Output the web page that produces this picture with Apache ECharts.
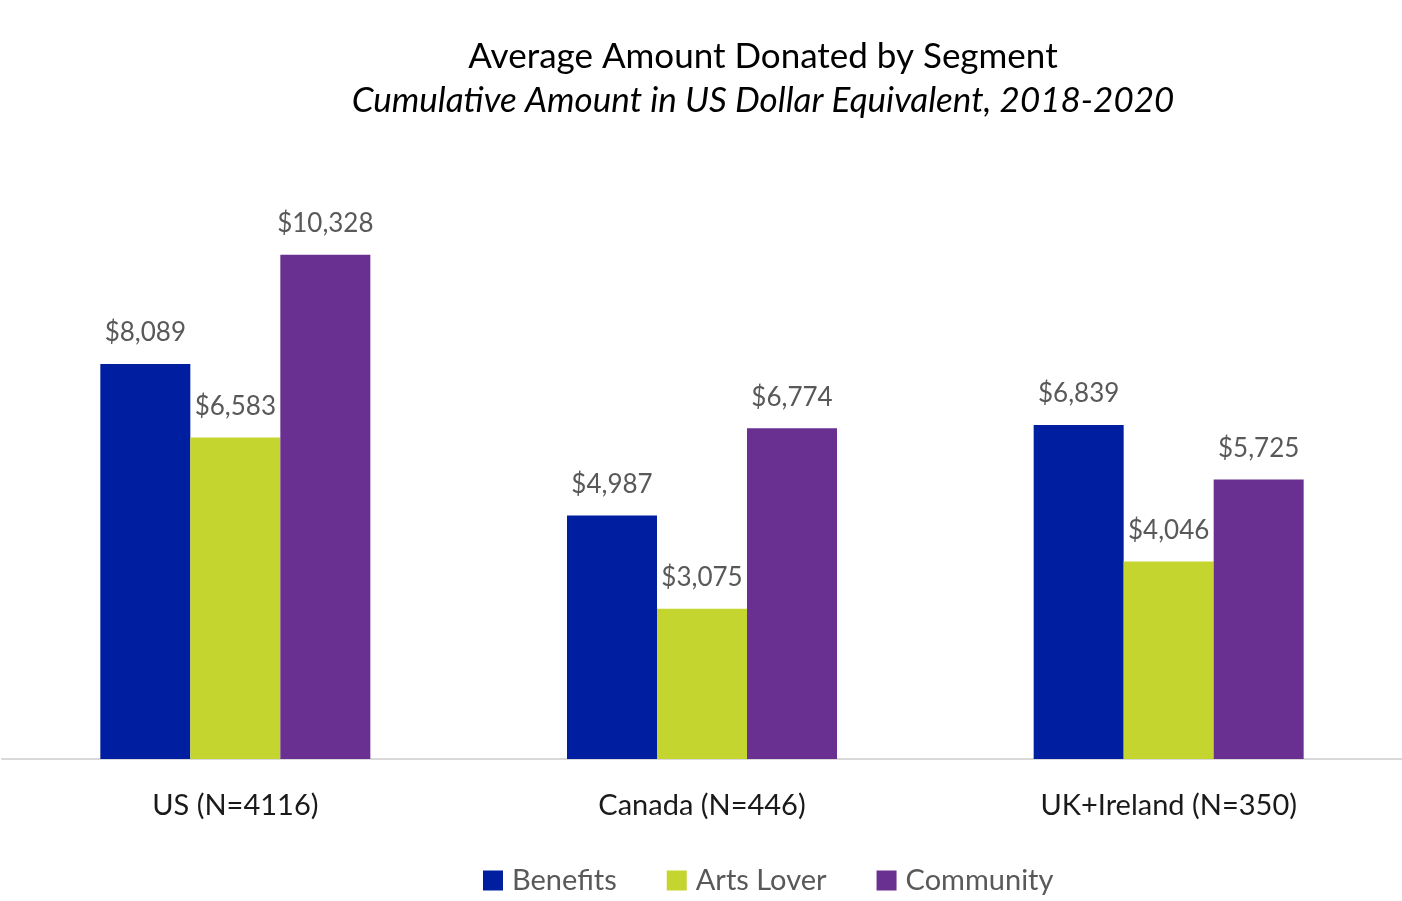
<!DOCTYPE html>
<html>
<head>
<meta charset="utf-8">
<style>
  html, body { margin: 0; padding: 0; background: #ffffff; }
  #chart { width: 1402px; height: 901px; }
</style>
<script src="https://cdn.jsdelivr.net/npm/echarts@6/dist/echarts.min.js"></script>
</head>
<body>
<div id="chart"></div>
<script>
// Regions and donation segments
const categories = ['US (N=4116)', 'Canada (N=446)', 'UK+Ireland (N=350)'];
const benefits = [8089, 4987, 6839];
const artsLover = [6583, 3075, 4046];
const community = [10328, 6774, 5725];
const titleLines = ['Average Amount Donated by Segment', 'Cumulative Amount in US Dollar Equivalent, 2018-2020'];

const FONT = 'Lato, "Noto Sans", sans-serif';

const chart = echarts.init(document.getElementById('chart'));

const labelCfg = {
  show: true,
  position: 'top',
  distance: 18,
  color: '#595959',
  fontSize: 26,
  fontFamily: FONT,
  formatter: p => '$' + p.value.toLocaleString('en-US')
};

function barSeries(name, data, color) {
  return {
    name: name,
    type: 'bar',
    data: data,
    barWidth: 90,
    barGap: '0%',
    itemStyle: { color: color },
    label: labelCfg
  };
}

chart.setOption({
  animation: false,
  graphic: [
    {
      type: 'text',
      x: 763,
      y: 57,
      style: {
        text: titleLines[0],
        fontFamily: FONT, fontSize: 35, fill: '#000000',
        textAlign: 'center', textVerticalAlign: 'middle'
      }
    },
    {
      type: 'text',
      x: 763,
      y: 101,
      style: {
        text: titleLines[1],
        fontFamily: FONT, fontSize: 35, fontStyle: 'italic', fill: '#000000',
        textAlign: 'center', textVerticalAlign: 'middle'
      }
    }
  ],
  legend: {
    bottom: 1,
    left: 478,
    itemWidth: 20,
    itemHeight: 20,
    itemGap: 50,
    icon: 'rect',
    textStyle: { fontFamily: FONT, fontSize: 29, color: '#595959', padding: [0, 0, 0, 4] },
    data: ['Benefits', 'Arts Lover', 'Community']
  },
  grid: { left: 2, right: 0, top: 173, bottom: 142, containLabel: false },
  xAxis: {
    type: 'category',
    data: categories,
    axisLine: { show: true, lineStyle: { color: '#d9d9d9', width: 2 } },
    axisTick: { show: false },
    axisLabel: { fontFamily: FONT, fontSize: 29, color: '#1a1a1a', margin: 32 }
  },
  yAxis: {
    type: 'value',
    min: 0,
    max: 12000,
    show: false,
    splitLine: { show: false }
  },
  series: [
    barSeries('Benefits', benefits, '#001ea0'),
    barSeries('Arts Lover', artsLover, '#c5d52f'),
    barSeries('Community', community, '#692f91')
  ]
});
</script>
</body>
</html>
